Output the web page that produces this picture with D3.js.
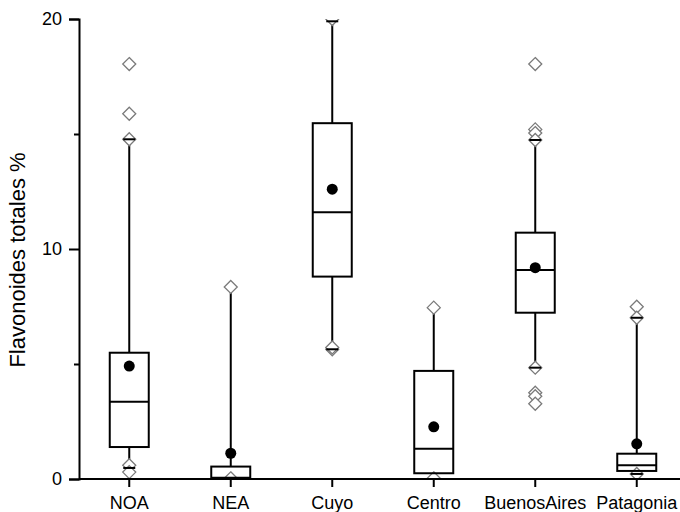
<!DOCTYPE html>
<html>
<head>
<meta charset="utf-8">
<script src="https://cdn.jsdelivr.net/npm/d3@7"></script>
<style>
  html, body { margin: 0; padding: 0; background: #fff; }
  svg { display: block; font-family: "Liberation Sans", Arial, sans-serif; }
</style>
</head>
<body>
<svg id="chart" width="680" height="512"></svg>
<script>
const categories = ["NOA", "NEA", "Cuyo", "Centro", "BuenosAires", "Patagonia"];
const q1Values = [1.39, 0.0, 8.8, 0.25, 7.23, 0.35];
const medianValues = [3.36, 0.05, 11.6, 1.32, 9.09, 0.6];
const q3Values = [5.49, 0.54, 15.47, 4.7, 10.71, 1.1];
const meanValues = [4.91, 1.12, 12.6, 2.27, 9.19, 1.53];
const whiskerLow = [0.48, 0.0, 5.64, 0.02, 4.84, 0.22];
const whiskerHigh = [14.77, 8.35, 19.9, 7.45, 14.74, 7.01];
const capLow = [0.48, null, 5.64, null, 4.84, 0.22];
const capHigh = [14.77, null, 19.9, null, 14.74, 7.01];
const outlierValues = [
  [18.04, 15.88, 14.77, 0.6, 0.3],
  [8.35, 0.03],
  [20.0, 5.64, 5.72],
  [7.45, 0.03],
  [18.04, 15.2, 15.04, 14.74, 4.84, 3.75, 3.6, 3.27],
  [7.49, 7.01, 0.22]
];
const yMajorTicks = [0, 10, 20];
const yMinorTicks = [5, 15];
const yLabel = "Flavonoides totales %";

const svg = d3.select("#chart");
const x = d3.scaleBand().domain(categories).range([78.5, 687.5]);
const y = d3.scaleLinear().domain([0, 20]).range([479, 19]);
const cx = c => x(c) + x.bandwidth() / 2;
const boxHalf = 19.5;
const capHalf = 6;
const dia = 6.5;

svg.append("defs").append("clipPath").attr("id", "plotclip")
  .append("rect").attr("x", 79).attr("y", y(20)).attr("width", 620).attr("height", y(0) - y(20));

const rows = categories.map((c, i) => ({
  c, q1: q1Values[i], med: medianValues[i], q3: q3Values[i], mean: meanValues[i],
  lo: whiskerLow[i], hi: whiskerHigh[i], out: outlierValues[i],
  caps: [capLow[i], capHigh[i]].filter(v => v !== null)
}));

const plot = svg.append("g").attr("clip-path", "url(#plotclip)");

// whiskers
plot.selectAll(".wh").data(rows).join("line")
  .attr("x1", d => cx(d.c)).attr("x2", d => cx(d.c))
  .attr("y1", d => y(d.q3)).attr("y2", d => y(d.hi))
  .attr("stroke", "#000").attr("stroke-width", 2);
plot.selectAll(".wl").data(rows).join("line")
  .attr("x1", d => cx(d.c)).attr("x2", d => cx(d.c))
  .attr("y1", d => y(d.q1)).attr("y2", d => y(d.lo))
  .attr("stroke", "#000").attr("stroke-width", 2);

// outlier diamonds
rows.forEach(d => {
  plot.selectAll(null).data(d.out).join("path")
    .attr("d", v => {
      const px = cx(d.c), py = y(v);
      return `M${px},${py - dia}L${px + dia},${py}L${px},${py + dia}L${px - dia},${py}Z`;
    })
    .attr("fill", "#fff").attr("stroke", "#7a7a7a").attr("stroke-width", 1.3);
});

// caps
rows.forEach(d => {
  plot.selectAll(null).data(d.caps).join("line")
    .attr("x1", cx(d.c) - capHalf).attr("x2", cx(d.c) + capHalf)
    .attr("y1", v => y(v)).attr("y2", v => y(v))
    .attr("stroke", "#000").attr("stroke-width", 2);
});

// boxes
plot.selectAll(".box").data(rows).join("rect")
  .attr("x", d => cx(d.c) - boxHalf).attr("width", boxHalf * 2)
  .attr("y", d => y(d.q3)).attr("height", d => y(d.q1) - y(d.q3))
  .attr("fill", "none").attr("stroke", "#000").attr("stroke-width", 2);
plot.selectAll(".med").data(rows).join("line")
  .attr("x1", d => cx(d.c) - boxHalf).attr("x2", d => cx(d.c) + boxHalf)
  .attr("y1", d => y(d.med)).attr("y2", d => y(d.med))
  .attr("stroke", "#000").attr("stroke-width", 2);

// means
plot.selectAll(".mean").data(rows).join("circle")
  .attr("cx", d => cx(d.c)).attr("cy", d => y(d.mean)).attr("r", 5.5)
  .attr("fill", "#000");

// axes
svg.append("g").attr("transform", "translate(79,0)")
  .call(d3.axisLeft(y).tickValues(yMajorTicks).tickFormat(d3.format("d")).tickSize(10).tickPadding(7));
const yMinor = svg.append("g").attr("transform", "translate(79,0)")
  .call(d3.axisLeft(y).tickValues(yMinorTicks).tickFormat("").tickSize(5));
yMinor.select(".domain").remove();
const xAxis = svg.append("g").attr("transform", `translate(0,${y(0)})`)
  .call(d3.axisBottom(x).tickSize(8).tickPadding(9).tickSizeOuter(0));
xAxis.select(".domain").attr("d", `M79,0H680`);

svg.selectAll(".domain").attr("stroke", "#000").attr("stroke-width", 2);
svg.selectAll(".tick line").attr("stroke", "#000").attr("stroke-width", 2);
svg.selectAll(".tick text").attr("font-size", 18).attr("fill", "#000")
  .attr("font-family", "'Liberation Sans', Arial, sans-serif");

svg.append("text")
  .attr("transform", "translate(25,260) rotate(-90)")
  .attr("text-anchor", "middle")
  .attr("font-size", 22)
  .attr("fill", "#000")
  .text(yLabel);
</script>
</body>
</html>
